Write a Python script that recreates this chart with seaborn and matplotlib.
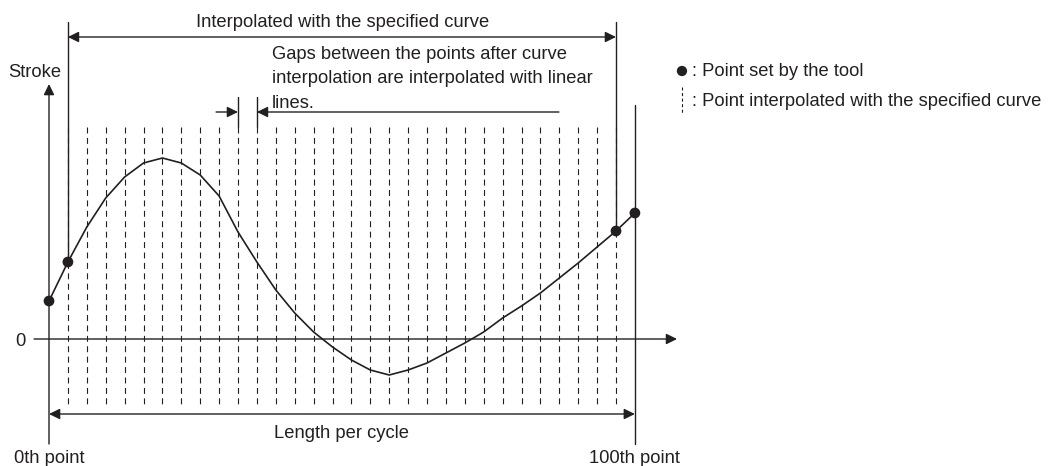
import matplotlib
matplotlib.use("Agg")
import matplotlib.pyplot as plt
import numpy as np
import pandas as pd
import seaborn as sns

# Positions along one cycle: 0 = 0th point, 31 = 100th point,
# 1..30 = points produced by the specified curve (dashed guides)
position = [0, 1, 2, 3, 4, 5, 6, 7, 8, 9, 10, 11, 12, 13, 14, 15,
            16, 17, 18, 19, 20, 21, 22, 23, 24, 25, 26, 27, 28, 29, 30, 31]
stroke = [3.8, 7.7, 11.2, 14.1, 16.2, 17.6, 18.1, 17.6, 16.4, 14.3, 10.7,
          7.7, 4.9, 2.6, 0.7, -0.8, -2.1, -3.1, -3.6, -3.1, -2.4, -1.4,
          -0.4, 0.7, 2.1, 3.3, 4.6, 6.1, 7.6, 9.2, 10.8, 12.6]
tool_points = [0, 1, 30, 31]
curve_points = [1, 2, 3, 4, 5, 6, 7, 8, 9, 10, 11, 12, 13, 14, 15, 16,
                17, 18, 19, 20, 21, 22, 23, 24, 25, 26, 27, 28, 29, 30]

title_top = "Interpolated with the specified curve"
gap_note = ["Gaps between the points after curve",
            "interpolation are interpolated with linear",
            "lines."]
legend_labels = [": Point set by the tool",
                 ": Point interpolated with the specified curve"]

sns.set_style("white")
plt.rcParams["font.family"] = ["Liberation Sans", "DejaVu Sans"]
plt.rcParams["lines.scale_dashes"] = False

ink = "#231f20"
fs = 13.2
dash = (0, (4.3, 3.2))

df = pd.DataFrame({"position": position, "stroke": stroke})
pts = df[df["position"].isin(tool_points)]

fig = plt.figure(figsize=(10.48, 4.66), dpi=100)
ax = fig.add_axes([0, 0, 1, 1])
ax.set_xlim(-2.593, 52.857)
ax.set_ylim(-12.7, 33.9)
ax.axis("off")


def arrow(tip, tail, both=False, lw=1.0):
    style = "<|-|>" if both else "-|>"
    ax.annotate("", xy=tip, xytext=tail,
                arrowprops=dict(arrowstyle=f"{style},head_length=0.65,head_width=0.32",
                                mutation_scale=10, lw=lw, color=ink,
                                shrinkA=0, shrinkB=0))


# dashed guides for the interpolated points
ax.vlines(curve_points, 21.2, -6.8, colors=ink, linewidth=0.8, linestyles=dash)

# axes
arrow((0, 25.5), (0, -10.5), lw=1.0)
arrow((33.23, 0), (-0.79, 0), lw=1.0)
ax.text(-1.51, -0.7, "0", fontsize=fs, color=ink, ha="center", va="baseline")
ax.text(-0.77, 26.2, "Stroke", fontsize=fs, color=ink, ha="center", va="baseline")

# stroke curve and the points set by the tool
sns.lineplot(data=df, x="position", y="stroke", ax=ax, color=ink, lw=1.2,
             sort=False, legend=False)
sns.scatterplot(data=pts, x="position", y="stroke", ax=ax, color=ink, s=60,
                edgecolor="none", legend=False, zorder=5)

# solid extension lines at the range limits
y1 = df.loc[df["position"] == 1, "stroke"].iloc[0]
y30 = df.loc[df["position"] == 30, "stroke"].iloc[0]
ax.plot([1, 1], [31.7, y1], color=ink, lw=1.0)
ax.plot([30, 30], [31.7, y30], color=ink, lw=1.0)
ax.plot([31, 31], [23.4, -10.5], color=ink, lw=1.0)

# range of the specified curve
arrow((1, 30.2), (30, 30.2), both=True)
ax.text(15.56, 31.2, title_top, fontsize=fs, color=ink, ha="center", va="baseline")

# gap between two interpolated points
ax.plot([10, 10], [24.2, 21.2], color=ink, lw=1.0)
ax.plot([11, 11], [24.2, 21.2], color=ink, lw=1.0)
arrow((10, 22.7), (8.84, 22.7))
arrow((11, 22.7), (26.98, 22.7))
for line, yb in zip(gap_note, [28.0, 25.55, 23.1]):
    ax.text(11.8, yb, line, fontsize=fs, color=ink, ha="left", va="baseline")

# length per cycle
arrow((0, -7.5), (31, -7.5), both=True)
ax.text(15.5, -9.9, "Length per cycle", fontsize=fs, color=ink, ha="center", va="baseline")
ax.text(0, -12.4, "0th point", fontsize=fs, color=ink, ha="center", va="baseline")
ax.text(31, -12.4, "100th point", fontsize=fs, color=ink, ha="center", va="baseline")

# key
ax.scatter([33.49], [26.8], s=55, color=ink, edgecolors="none")
ax.plot([33.49, 33.49], [25.2, 22.5], color=ink, lw=0.8, linestyle=(0, (2.2, 1.8)))
ax.text(34.02, 26.3, legend_labels[0], fontsize=fs, color=ink, ha="left", va="baseline")
ax.text(34.02, 23.3, legend_labels[1], fontsize=fs, color=ink, ha="left", va="baseline")

fig.savefig("out.png", dpi=100)
